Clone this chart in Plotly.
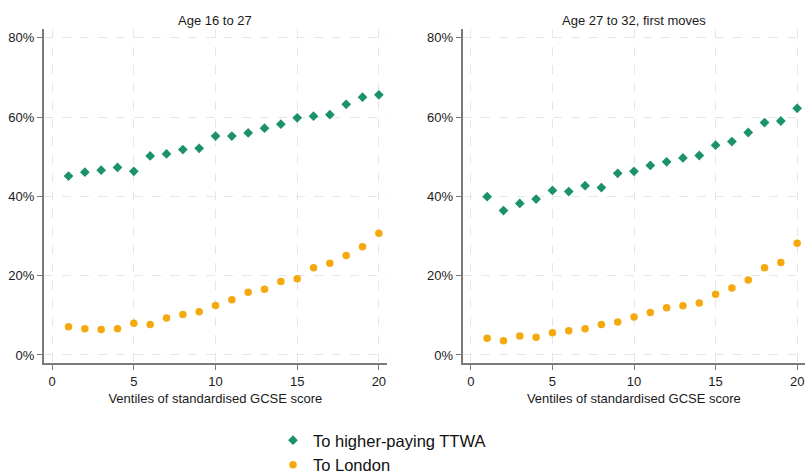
import plotly.graph_objects as go

# Ventiles of standardised GCSE score
ventiles = list(range(1, 21))

# Share moving, age 16 to 27 (%)
young_ttwa = [45.1, 46.1, 46.6, 47.3, 46.3, 50.2, 50.7, 51.8, 52.1, 55.2,
              55.2, 56.0, 57.2, 58.2, 59.8, 60.2, 60.6, 63.2, 65.0, 65.6]
young_london = [7.1, 6.6, 6.4, 6.6, 8.0, 7.7, 9.3, 10.2, 10.9, 12.5,
                13.9, 15.8, 16.6, 18.5, 19.2, 22.0, 23.1, 25.1, 27.3, 30.7]

# Share moving, age 27 to 32, first moves (%)
older_ttwa = [39.9, 36.4, 38.2, 39.3, 41.5, 41.2, 42.7, 42.2, 45.8, 46.3,
              47.8, 48.7, 49.7, 50.3, 52.9, 53.8, 56.1, 58.6, 59.0, 62.2]
older_london = [4.2, 3.6, 4.8, 4.5, 5.6, 6.1, 6.6, 7.7, 8.3, 9.6,
                10.7, 11.9, 12.4, 13.1, 15.3, 16.9, 18.9, 22.0, 23.3, 28.2]

panel_titles = ["Age 16 to 27", "Age 27 to 32, first moves"]
series_names = ["To higher-paying TTWA", "To London"]
x_title = "Ventiles of standardised GCSE score"

GREEN = "#1b9367"
ORANGE = "#f4a90f"
FONT = "Liberation Sans, Arial, sans-serif"

fig = go.Figure()

panels = [(young_ttwa, young_london, "x", "y"), (older_ttwa, older_london, "x2", "y2")]
for i, (ttwa, london, xa, ya) in enumerate(panels):
    fig.add_trace(go.Scatter(
        x=ventiles, y=ttwa, mode="markers", name=series_names[0],
        marker=dict(symbol="diamond", size=7.5, color=GREEN),
        xaxis=xa, yaxis=ya, showlegend=(i == 0), legendgroup="ttwa"))
    fig.add_trace(go.Scatter(
        x=ventiles, y=london, mode="markers", name=series_names[1],
        marker=dict(symbol="circle", size=7.5, color=ORANGE),
        xaxis=xa, yaxis=ya, showlegend=(i == 0), legendgroup="london"))

W, H = 805, 475
x_domains = [[44 / W, 386.7 / W], [462.7 / W, 1.0]]
y_domain = [(H - 363.3) / H, (H - 29) / H]

common_x = dict(
    range=[-0.5, 20.48], tickvals=[0, 5, 10, 15, 20],
    showline=True, linecolor="#7a7a7a", linewidth=2,
    ticks="outside", ticklen=5, tickcolor="#7a7a7a", tickwidth=1,
    showgrid=True, gridcolor="#e6e6e6", griddash="dash", gridwidth=1,
    zeroline=False, tickfont=dict(size=13, color="#1a1a1a", family=FONT),
    title=dict(text=x_title, font=dict(size=13, color="#1a1a1a", family=FONT), standoff=6),
    automargin=False,
)
common_y = dict(
    range=[-2.1, 82.2], tickvals=[0, 20, 40, 60, 80],
    ticktext=["0%", "20%", "40%", "60%", "80%"],
    showline=True, linecolor="#7a7a7a", linewidth=2,
    ticks="outside", ticklen=5, tickcolor="#7a7a7a", tickwidth=1,
    showgrid=True, gridcolor="#e6e6e6", griddash="dash", gridwidth=1,
    zeroline=False, tickfont=dict(size=13, color="#1a1a1a", family=FONT),
    domain=y_domain, automargin=False,
)

fig.update_layout(
    width=W, height=H,
    margin=dict(l=0, r=0, t=0, b=0, autoexpand=False),
    paper_bgcolor="white", plot_bgcolor="white",
    font=dict(family=FONT, color="#1a1a1a"),
    xaxis=dict(common_x, domain=x_domains[0], anchor="y"),
    yaxis=dict(common_y, anchor="x"),
    xaxis2=dict(common_x, domain=x_domains[1], anchor="y2"),
    yaxis2=dict(common_y, anchor="x2"),
    legend=dict(
        x=273 / W, y=-7 / H, xanchor="left", yanchor="bottom",
        font=dict(size=16.5, color="#111", family=FONT),
        bgcolor="rgba(0,0,0,0)", itemsizing="trace",
        tracegroupgap=0,
    ),
    showlegend=True,
)

for title, dom in zip(panel_titles, x_domains):
    fig.add_annotation(
        text=title, xref="paper", yref="paper",
        x=(dom[0] + dom[1]) / 2, y=(H - 20) / H,
        xanchor="center", yanchor="middle", showarrow=False,
        font=dict(size=13, color="#1a1a1a", family=FONT),
    )

fig.write_html("out.html")
